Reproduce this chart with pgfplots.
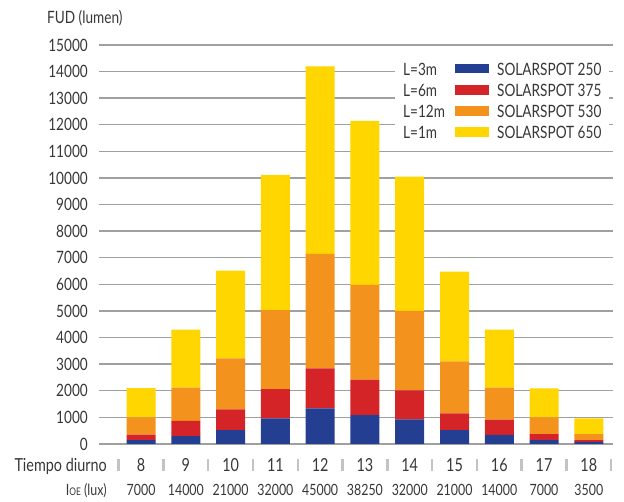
\documentclass[border=0pt]{standalone}
\usepackage{fontspec}
\setmainfont{Lato}[FakeStretch=0.8]
\usepackage{pgfplots}
\usepackage{pgfplotstable}
\pgfplotsset{compat=1.18}
\definecolor{blueC}{RGB}{36,62,145}
\definecolor{redC}{RGB}{212,36,40}
\definecolor{orangeC}{RGB}{244,146,30}
\definecolor{yellowC}{RGB}{255,214,0}
\definecolor{txt}{RGB}{55,55,55}
\definecolor{gridC}{RGB}{160,160,160}
\definecolor{sepC}{RGB}{195,195,195}
\newcommand\fA{\fontsize{17}{20}\selectfont}
\newcommand\fB{\fontsize{18}{21}\selectfont}
\newcommand\fC{\fontsize{15.5}{18}\selectfont}
% x  blue  red  orange  yellow (segment heights)
\pgfplotstableread{
x  b     r     o     y
0  150   200   650   1100
1  300   570   1250  2180
2  525   775   1920  3300
3  960   1100  2970  5090
4  1340  1500  4310  7050
5  1090  1330  3560  6170
6  930   1090  2980  5050
7  525   625   1960  3370
8  340   580   1200  2180
9  150   225   625   1090
10 75    75    225   585
}\datatable
\begin{document}
\begin{tikzpicture}
\useasboundingbox (-99pt,-58pt) rectangle (525pt,444pt);
\begin{axis}[
  scale only axis,
  width=514pt, height=399pt,
  xmin=-0.94, xmax=10.54,
  ymin=0, ymax=15000,
  ybar stacked,
  bar width=29pt,
  clip=false,
  axis line style={draw=none},
  major tick length=0pt,
  ymajorgrids,
  major grid style={gridC, line width=1.4pt},
  ytick={0,1000,...,15000},
  scaled y ticks=false,
  /pgf/number format/.cd, 1000 sep={}, assume math mode=true,
  /pgfplots/.cd,
  yticklabel style={font=\fA, text=txt, inner sep=0pt, anchor=east, xshift=-11pt},
  xtick={0,...,10},
  xticklabels={8,9,10,11,12,13,14,15,16,17,18},
  xticklabel style={font=\fB, text=txt, anchor=base, yshift=-27.5pt},
  extra x ticks={0,...,10},
  extra x tick labels={7000,14000,21000,32000,45000,38250,32000,21000,14000,7000,3500},
  extra x tick style={xticklabel style={font=\fC, yshift=-24pt}},
  legend cell align=left,
  legend style={at={(0.5759,0.9674)}, anchor=north west, draw=none, fill=white,
    inner xsep=8pt, inner ysep=5pt, font=\fA, text=txt, row sep=9.1pt,
    nodes={inner sep=0pt, text height=12pt, text depth=0pt},
    /tikz/column 1/.style={column sep=9pt}},
]
\addplot[fill=blueC, draw=none, forget plot] table[x=x, y=b] {\datatable};
\addplot[fill=redC, draw=none, forget plot] table[x=x, y=r] {\datatable};
\addplot[fill=orangeC, draw=none, forget plot] table[x=x, y=o] {\datatable};
\addplot[fill=yellowC, draw=none, forget plot] table[x=x, y=y] {\datatable};
\addlegendimage{legend image code/.code={\node[anchor=base west, inner sep=0pt, font=\fA, text=txt] at (-52pt,-6pt) {L=3m};\fill[blueC] (0pt,-3.5pt) rectangle (33pt,5pt);}}\addlegendentry{SOLARSPOT 250}
\addlegendimage{legend image code/.code={\node[anchor=base west, inner sep=0pt, font=\fA, text=txt] at (-52pt,-6pt) {L=6m};\fill[redC] (0pt,-3.5pt) rectangle (33pt,5pt);}}\addlegendentry{SOLARSPOT 375}
\addlegendimage{legend image code/.code={\node[anchor=base west, inner sep=0pt, font=\fA, text=txt] at (-52pt,-6pt) {L=12m};\fill[orangeC] (0pt,-3.5pt) rectangle (33pt,5pt);}}\addlegendentry{SOLARSPOT 530}
\addlegendimage{legend image code/.code={\node[anchor=base west, inner sep=0pt, font=\fA, text=txt] at (-52pt,-6pt) {L=1m};\fill[yellowC] (0pt,-3.5pt) rectangle (33pt,5pt);}}\addlegendentry{SOLARSPOT 650}
\pgfplotsinvokeforeach{-0.5,0.5,...,10.5}{
  \draw[sepC, line width=2.5pt] ([yshift=-15pt]axis cs:#1,0) -- ([yshift=-27pt]axis cs:#1,0);
}
\end{axis}
\node[anchor=base west, font=\fA, text=txt, inner sep=0pt] at (-52pt,420pt) {FUD (lumen)};
\node[anchor=base east, font=\fB, text=txt, inner sep=0pt] at (8pt,-27.5pt) {Tiempo diurno};
\node[anchor=base east, font=\fC, text=txt, inner sep=0pt] at (8pt,-51.5pt) {I{\fontsize{10.5}{12}\selectfont OE} (lux)};
\end{tikzpicture}
\end{document}
